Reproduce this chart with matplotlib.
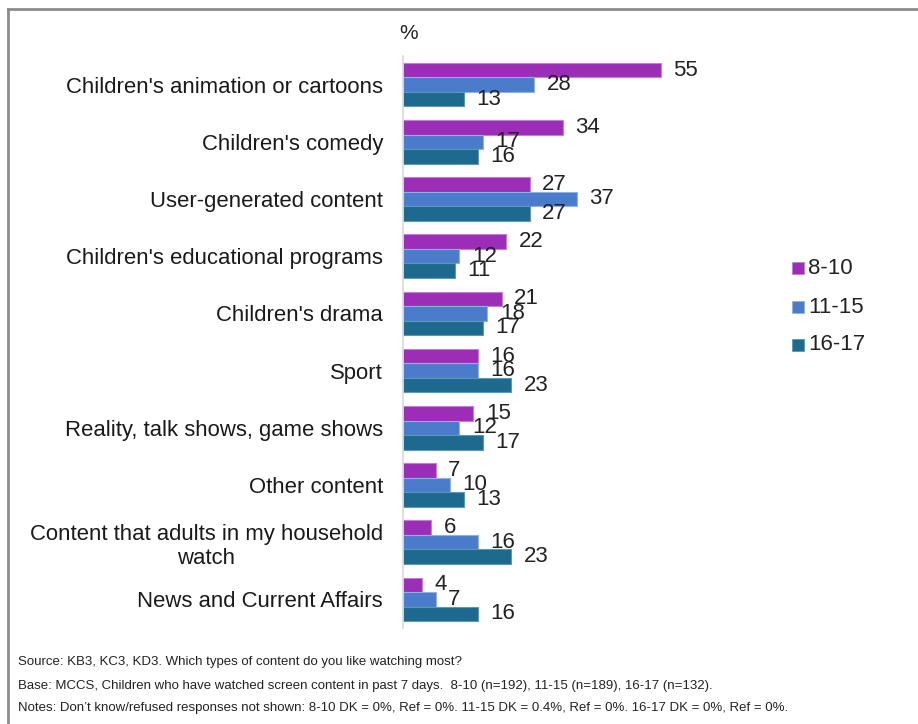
import matplotlib
matplotlib.use("Agg")
import matplotlib.pyplot as plt
from matplotlib.lines import Line2D
from matplotlib.patches import Rectangle
import numpy as np

plt.rcParams['font.family'] = ['Liberation Sans', 'DejaVu Sans']

categories = [
    "Children's animation or cartoons",
    "Children's comedy",
    "User-generated content",
    "Children's educational programs",
    "Children's drama",
    "Sport",
    "Reality, talk shows, game shows",
    "Other content",
    "Content that adults in my household\nwatch",
    "News and Current Affairs",
]
series_names = ["8-10", "11-15", "16-17"]
age_8_10 = [55, 34, 27, 22, 21, 16, 15, 7, 6, 4]
age_11_15 = [28, 17, 37, 12, 18, 16, 12, 10, 16, 7]
age_16_17 = [13, 16, 27, 11, 17, 23, 17, 13, 23, 16]
colors = ["#9B2DB6", "#4B7CCB", "#1E6A8E"]
edge_colors = ["#C27FD3", "#8FB0E0", "#5E97B5"]

footnotes = [
    "Source: KB3, KC3, KD3. Which types of content do you like watching most?",
    "Base: MCCS, Children who have watched screen content in past 7 days.  8-10 (n=192), 11-15 (n=189), 16-17 (n=132).",
    "Notes: Don\u2019t know/refused responses not shown: 8-10 DK = 0%, Ref = 0%. 11-15 DK = 0.4%, Ref = 0%. 16-17 DK = 0%, Ref = 0%.",
]

fig = plt.figure(figsize=(9.18, 7.24), dpi=100)
ax = fig.add_axes([403 / 918, 96 / 724, 281.5 / 918, 572 / 724])

y = np.arange(len(categories))
h = 0.255
series = [age_8_10, age_11_15, age_16_17]
for i, (vals, c, ec, name) in enumerate(zip(series, colors, edge_colors, series_names)):
    pos = y + (i - 1) * h
    ax.barh(pos, vals, height=h, color=c, edgecolor=ec, linewidth=0.8, label=name)
    for p, v in zip(pos, vals):
        ax.annotate(str(v), (v, p), xytext=(9, 0), textcoords="offset points",
                    ha="left", va="center", fontsize=16, color="#222222")

ax.set_xlim(0, 60)
ax.set_ylim(len(categories) - 0.5, -0.5)
ax.set_yticks(y)
ax.set_yticklabels(categories, fontsize=15.9, color="#1a1a1a", multialignment="center")
ax.tick_params(axis="y", length=0, pad=14.4)
ax.set_xticks([])
for s in ["top", "right", "bottom"]:
    ax.spines[s].set_visible(False)
ax.spines["left"].set_color("#d9d9d9")
ax.spines["left"].set_linewidth(1.2)

ax.text(-0.015, 1.04, "%", transform=ax.transAxes, fontsize=15, ha="left", va="center",
        color="#222222")

# legend drawn as small squares with labels
leg_y = [268, 307, 345]
for name, c, ec, ly in zip(series_names, colors, edge_colors, leg_y):
    fy = 1 - ly / 724
    fig.patches.append(Rectangle((792 / 918, fy - 6 / 724), 12 / 918, 12 / 724,
                                 transform=fig.transFigure, facecolor=c,
                                 edgecolor=ec, linewidth=0.6))
    fig.text(808 / 918, fy, name, fontsize=16, ha="left", va="center", color="#222222")

# footnotes
for txt, ty in zip(footnotes, [662, 686, 708]):
    fig.text(18 / 918, 1 - ty / 724, txt, fontsize=9.5, ha="left", va="center",
             color="#222222")

# outer frame (top and left edges)
fig.add_artist(Line2D([8 / 918, 1.0], [1 - 9 / 724, 1 - 9 / 724], transform=fig.transFigure,
                      color="#8c8c8c", linewidth=2))
fig.add_artist(Line2D([8 / 918, 8 / 918], [0, 1 - 9 / 724], transform=fig.transFigure,
                      color="#8c8c8c", linewidth=2))

fig.savefig("out.png", dpi=100, facecolor="white")
